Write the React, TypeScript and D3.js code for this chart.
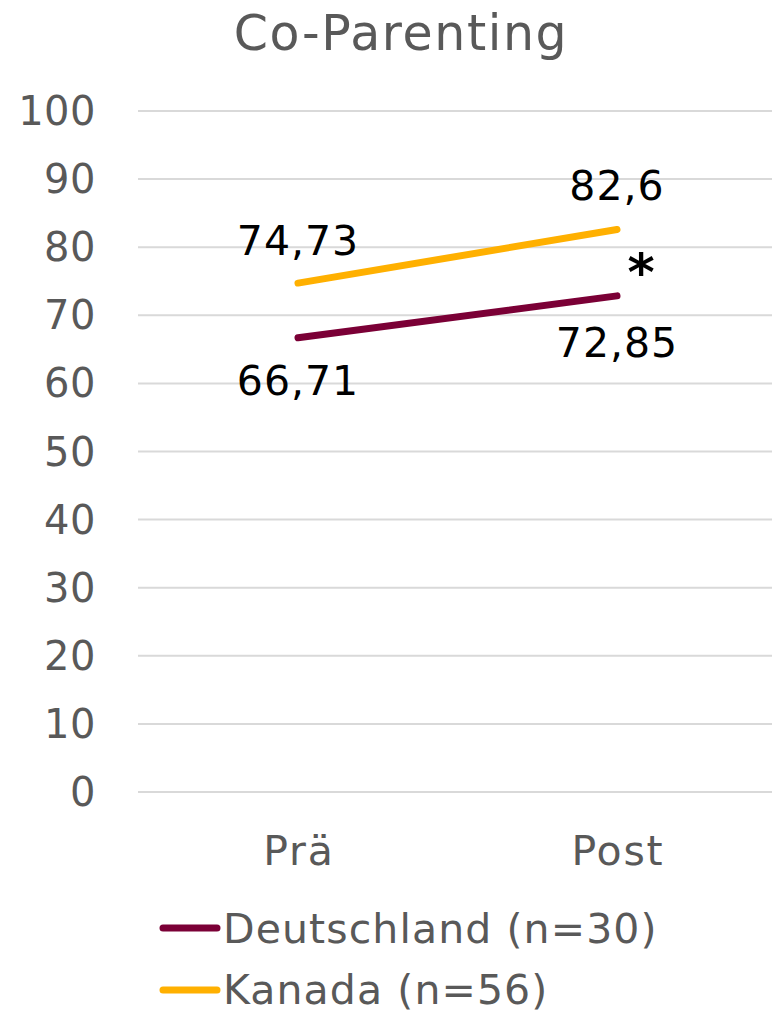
import React from "react";
import * as d3 from "d3";

const categories = ["Prä", "Post"];
const deutschland = [66.71, 72.85];
const kanada = [74.73, 82.6];
const yTicks = [0, 10, 20, 30, 40, 50, 60, 70, 80, 90, 100];
const seriesNames = ["Deutschland (n=30)", "Kanada (n=56)"];
const colors = ["#7B0036", "#FFB000"];

export default function App() {
  const W = 772, H = 1011;
  const font = "'DejaVu Sans', Verdana, sans-serif";
  const y = d3.scaleLinear().domain([0, 100]).range([792, 111]);
  const x = d3.scalePoint().domain(categories).range([298, 617]);
  const line = d3.line<number>().x((_, i) => x(categories[i])!).y((d) => y(d));
  const series = [deutschland, kanada];
  const fmt = (v: number) => String(v).replace(".", ",");
  return (
    <svg width={W} height={H} style={{ position: "absolute", left: 0, top: 0 }}>
      <rect width={W} height={H} fill="#fff" />
      <text x={401} y={50} textAnchor="middle" fontFamily={font} fontSize={49} letterSpacing={1.6} fill="#595959">Co-Parenting</text>
      {yTicks.map((t) => (
        <g key={t}>
          <line x1={138} x2={772} y1={y(t)} y2={y(t)} stroke="#D9D9D9" strokeWidth={2} />
          <text x={96} y={y(t) + 14} textAnchor="end" fontFamily={font} fontSize={40} letterSpacing={0.5} fill="#595959">{t}</text>
        </g>
      ))}
      {categories.map((c) => (
        <text key={c} x={x(c)! + 1} y={865} textAnchor="middle" fontFamily={font} fontSize={41} letterSpacing={1.8} fill="#595959">{c}</text>
      ))}
      {series.map((s, i) => (
        <path key={i} d={line(s)!} fill="none" stroke={colors[i]} strokeWidth={7} strokeLinecap="round" />
      ))}
      <text x={x("Prä")} y={y(deutschland[0]) + 57} textAnchor="middle" fontFamily={font} fontSize={41} letterSpacing={1} fill="#000">{fmt(deutschland[0])}</text>
      <text x={x("Post")} y={y(deutschland[1]) + 61} textAnchor="middle" fontFamily={font} fontSize={41} letterSpacing={1} fill="#000">{fmt(deutschland[1])}</text>
      <text x={x("Prä")} y={y(kanada[0]) - 28} textAnchor="middle" fontFamily={font} fontSize={41} letterSpacing={1} fill="#000">{fmt(kanada[0])}</text>
      <text x={x("Post")} y={y(kanada[1]) - 29} textAnchor="middle" fontFamily={font} fontSize={41} letterSpacing={1} fill="#000">{fmt(kanada[1])}</text>
      <text x={641} y={290} textAnchor="middle" fontFamily={font} fontSize={52} fontWeight="bold" fill="#000">*</text>
      {seriesNames.map((n, i) => (
        <g key={n}>
          <line x1={163} x2={217} y1={928 + i * 62} y2={928 + i * 62} stroke={colors[i]} strokeWidth={7} strokeLinecap="round" />
          <text x={223} y={943 + i * 61} fontFamily={font} fontSize={41} letterSpacing={1.1} fill="#595959">{n}</text>
        </g>
      ))}
    </svg>
  );
}
